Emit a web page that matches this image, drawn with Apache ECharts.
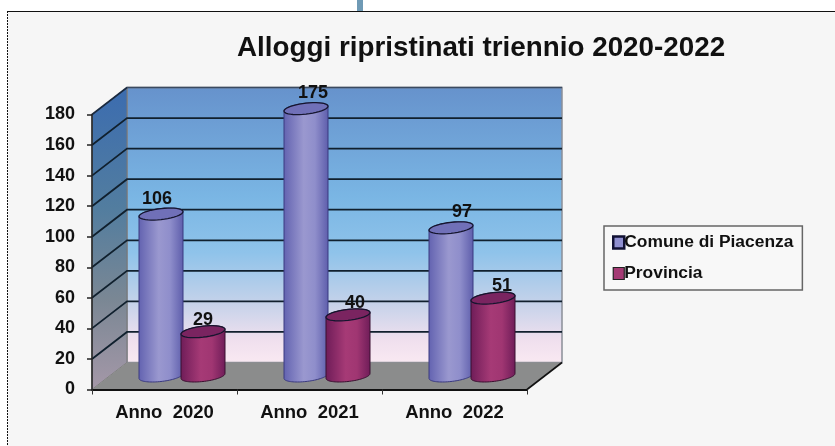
<!DOCTYPE html>
<html>
<head>
<meta charset="utf-8">
<title>Alloggi ripristinati</title>
<style>
  html, body { margin: 0; padding: 0; background: #fff; }
  #chart { width: 835px; height: 446px; }
</style>
</head>
<body>
<div id="chart"></div>
<script src="https://cdn.jsdelivr.net/npm/echarts@6/dist/echarts.min.js"></script>
<script>
const categories = ['Anno  2020', 'Anno  2021', 'Anno  2022']
const comune = [106, 175, 97]
const provincia = [29, 40, 51]
const yTicks = [0, 20, 40, 60, 80, 100, 120, 140, 160, 180]

// 3d look: the back wall is the front plane pushed by this much
const DEPTH_X = 35
const DEPTH_Y = -27
const FONT = '"Liberation Sans", Arial, sans-serif'

const chart = echarts.init(document.getElementById('chart'))

function vGrad (stops) {
  return new echarts.graphic.LinearGradient(0, 0, 0, 1, stops.map(s => ({ offset: s[0], color: s[1] })))
}
function hGrad (stops) {
  return new echarts.graphic.LinearGradient(0, 0, 1, 0, stops.map(s => ({ offset: s[0], color: s[1] })))
}

function renderWalls (params, api) {
  const cs = params.coordSys
  const left = cs.x
  const right = cs.x + cs.width
  const y0 = api.coord([0, 0])[1]
  const yMax = api.coord([0, yTicks[yTicks.length - 1]])[1]
  const children = [
    {
      type: 'polygon',
      shape: { points: [[left + DEPTH_X, yMax + DEPTH_Y], [right + DEPTH_X, yMax + DEPTH_Y], [right + DEPTH_X, y0 + DEPTH_Y], [left + DEPTH_X, y0 + DEPTH_Y]] },
      style: {
        fill: vGrad([[0, '#6692cc'], [0.4, '#7ab6e4'], [0.6, '#8fc3ea'], [0.78, '#c4d2ea'], [0.92, '#f0e0ee'], [1, '#f9e9f2']]),
        stroke: '#8a8f98',
        lineWidth: 1.5
      }
    },
    {
      type: 'polygon',
      shape: { points: [[left, yMax], [left + DEPTH_X, yMax + DEPTH_Y], [left + DEPTH_X, y0 + DEPTH_Y], [left, y0]] },
      style: {
        fill: vGrad([[0, '#3b6cb0'], [0.4, '#527d9f'], [0.7, '#7a8794'], [1, '#a598a8']]),
        stroke: '#777',
        lineWidth: 1
      }
    },
    {
      type: 'polygon',
      shape: { points: [[left, y0], [left + DEPTH_X, y0 + DEPTH_Y], [right + DEPTH_X, y0 + DEPTH_Y], [right, y0]] },
      style: { fill: '#8b8c8c' }
    },
    {
      type: 'line',
      shape: { x1: right, y1: y0, x2: right + DEPTH_X, y2: y0 + DEPTH_Y },
      style: { stroke: '#111', lineWidth: 1.6 }
    },
    {
      type: 'line',
      shape: { x1: left, y1: yMax, x2: left + DEPTH_X, y2: yMax + DEPTH_Y },
      style: { stroke: '#1a2a40', lineWidth: 1.6 }
    },
    {
      type: 'line',
      shape: { x1: left + DEPTH_X, y1: yMax + DEPTH_Y, x2: right + DEPTH_X, y2: yMax + DEPTH_Y },
      style: { stroke: '#3a4a60', lineWidth: 1.5 }
    }
  ]
  yTicks.slice(1, -1).forEach(t => {
    const y = api.coord([0, t])[1]
    children.push({
      type: 'polyline',
      shape: { points: [[left, y], [left + DEPTH_X, y + DEPTH_Y], [right + DEPTH_X, y + DEPTH_Y]] },
      style: { fill: 'none', stroke: '#10202e', lineWidth: 1.8 }
    })
  })
  return { type: 'group', children: children }
}

function ellipsePoints (cx, cy, rx, ry, tilt, from, to) {
  const pts = []
  const n = 40
  for (let i = 0; i <= n; i++) {
    const t = from + (to - from) * i / n
    pts.push([cx + rx * Math.cos(t), cy + ry * Math.sin(t) - tilt * Math.cos(t)])
  }
  return pts
}

// one cylinder per data item, side: -1 left of the band centre, 1 right
function cylinder (side, body, top, edge, labelDx, labelDy) {
  return function (params, api) {
    const idx = api.value(0)
    const val = api.value(1)
    const base = api.coord([idx, 0])
    const head = api.coord([idx, val])
    const cx = base[0] + DEPTH_X / 2 + side * 21
    const yBase = base[1] + DEPTH_Y / 2
    const yTop = head[1] + DEPTH_Y / 2
    const rx = 22
    const ry = 5.5
    const tilt = 2.4
    const outline = ellipsePoints(cx, yBase, rx, ry, tilt, 0, Math.PI)
      .concat(ellipsePoints(cx, yTop, rx, ry, tilt, Math.PI, 2 * Math.PI))
    return {
      type: 'group',
      children: [
        {
          type: 'polygon',
          shape: { points: outline },
          style: { fill: hGrad(body), stroke: edge, lineWidth: 1 }
        },
        {
          type: 'polygon',
          shape: { points: ellipsePoints(cx, yTop, rx, ry, tilt, 0, 2 * Math.PI) },
          style: { fill: top, stroke: '#15152e', lineWidth: 1.3 }
        },
        {
          type: 'text',
          x: cx + labelDx[idx],
          y: yTop - labelDy,
          style: { text: String(val), fill: '#111', font: 'bold 18px ' + FONT, align: 'center', verticalAlign: 'bottom' }
        }
      ]
    }
  }
}

chart.setOption({
  animation: false,
  backgroundColor: '#fff',
  title: {
    text: 'Alloggi ripristinati triennio 2020-2022',
    left: 232,
    top: 29,
    textStyle: { fontFamily: FONT, fontSize: 27.8, fontWeight: 'bold', color: '#111' }
  },
  legend: {
    left: 604,
    top: 226,
    orient: 'vertical',
    data: [
      { name: 'Comune di Piacenza', itemStyle: { color: '#8f8fd0', borderColor: '#111133', borderWidth: 2.5 } },
      { name: 'Provincia', itemStyle: { color: '#a43a74', borderColor: '#222', borderWidth: 1.2 } }
    ],
    padding: [8, 9, 8, 8],
    itemGap: 14,
    itemWidth: 11,
    itemHeight: 12,
    icon: 'rect',
    backgroundColor: '#f8f8f8',
    borderColor: '#666',
    borderWidth: 1.5,
    selectedMode: false,
    textStyle: { fontFamily: FONT, fontSize: 17.4, fontWeight: 'bold', color: '#111', padding: [0, 0, 0, -5] }
  },
  grid: { left: 92, right: 308, top: 114.5, bottom: 56.5 },
  xAxis: {
    type: 'category',
    data: categories,
    z: 5,
    axisLine: { lineStyle: { color: '#111', width: 2 } },
    axisTick: { show: true, length: 5, lineStyle: { color: '#333' } },
    axisLabel: { fontFamily: FONT, fontSize: 18.5, fontWeight: 'bold', color: '#111', margin: 14 }
  },
  yAxis: {
    type: 'value',
    min: 0,
    max: 180,
    interval: 20,
    z: 5,
    splitLine: { show: false },
    axisLine: { show: true, lineStyle: { color: '#222', width: 1.5 } },
    axisTick: { show: true, length: 5, lineStyle: { color: '#222', width: 1.5 } },
    axisLabel: { fontFamily: FONT, fontSize: 18, fontWeight: 'bold', color: '#111', margin: 17, padding: [4, 0, 0, 0] }
  },
  graphic: [
    { type: 'rect', z: -10, shape: { x: 7, y: 11, width: 830, height: 437 }, style: { fill: '#f6f6f6', stroke: null } },
    { type: 'line', z: -9, shape: { x1: 7, y1: 11.5, x2: 835, y2: 11.5 }, style: { stroke: '#111', lineWidth: 1 } },
    { type: 'line', z: -9, shape: { x1: 7.5, y1: 11, x2: 7.5, y2: 446 }, style: { stroke: '#111', lineWidth: 1, lineDash: [2, 1] } },
    { type: 'rect', z: -9, shape: { x: 357, y: 0, width: 6, height: 11 }, style: { fill: '#6f9ab5' } }
  ],
  series: [
    {
      name: 'walls',
      type: 'custom',
      silent: true,
      z: 2,
      renderItem: renderWalls,
      data: [[0, 0]]
    },
    {
      name: 'Comune di Piacenza',
      type: 'custom',
      z: 3,
      silent: true,
      itemStyle: { color: '#8f8fd0' },
      renderItem: cylinder(-1, [[0, '#6262b0'], [0.45, '#9a98cf'], [0.7, '#8f8ecb'], [1, '#5d5dab']], '#7070b8', '#3a3a80', [-4, 7, 11], 6.5),
      data: comune.map((v, i) => [i, v])
    },
    {
      name: 'Provincia',
      type: 'custom',
      z: 4,
      silent: true,
      itemStyle: { color: '#a43a74' },
      renderItem: cylinder(1, [[0, '#6e1c58'], [0.45, '#a63a76'], [0.7, '#a03672'], [1, '#6e1c58']], '#7a2460', '#3a1030', [0, 7, 9], 3),
      data: provincia.map((v, i) => [i, v])
    }
  ]
})

window.addEventListener('resize', () => chart.resize())
</script>
</body>
</html>
